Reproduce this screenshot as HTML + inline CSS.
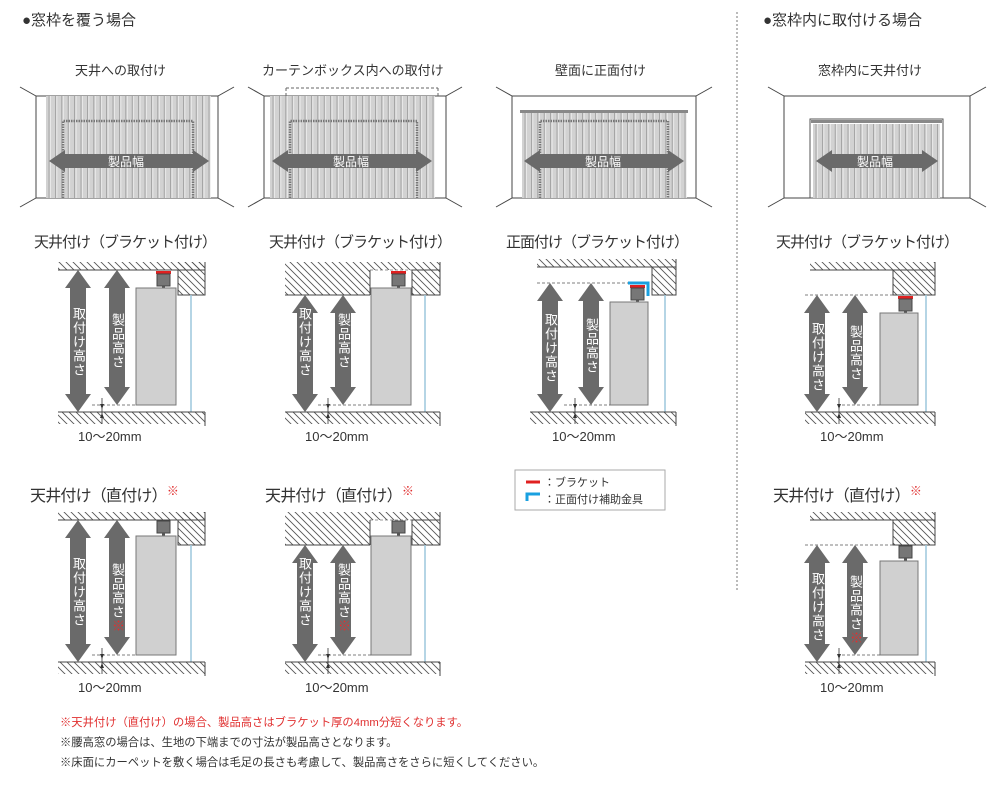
<!DOCTYPE html>
<html><head><meta charset="utf-8"><style>
body{margin:0;background:#fff;width:1000px;height:790px;position:relative;overflow:hidden;font-family:"Liberation Sans","Noto Sans CJK JP",sans-serif;color:#333}
.t{position:absolute;white-space:nowrap}
.st{font-size:15px;letter-spacing:-1px}
.v{position:absolute;writing-mode:vertical-rl;color:#fff;font-size:13px;line-height:14px;letter-spacing:1px}
</style></head><body>
<svg id="s" width="1000" height="790" style="position:absolute;left:0;top:0">
<defs>
<pattern id="h" width="7" height="7" patternUnits="userSpaceOnUse"><path d="M-1,-1 L8,8 M-1,6 L1,8 M6,-1 L8,1" stroke="#555" stroke-width="0.9"/></pattern>
</defs>
<g id="g"></g>
<line x1="737" y1="12" x2="737" y2="592" stroke="#777" stroke-dasharray="2,2"/>
<rect x="515" y="470" width="150" height="40" fill="#fff" stroke="#aaa"/>
<line x1="526" y1="482" x2="540" y2="482" stroke="#e02020" stroke-width="3"/>
<path d="M527,501 V494 H540" fill="none" stroke="#1aa0e0" stroke-width="3"/>
<text x="544" y="486" font-size="11" fill="#333">：ブラケット</text>
<text x="544" y="503" font-size="11" fill="#333">：正面付け補助金具</text>
</svg>
<div class="t" style="left:22px;top:9px;font-size:15px">●窓枠を覆う場合</div>
<div class="t" style="left:763px;top:9px;font-size:15px">●窓枠内に取付ける場合</div>
<div class="t" style="left:75px;top:60px;font-size:13px">天井への取付け</div>
<div class="t" style="left:262px;top:60px;font-size:13px">カーテンボックス内への取付け</div>
<div class="t" style="left:555px;top:60px;font-size:13px">壁面に正面付け</div>
<div class="t" style="left:818px;top:60px;font-size:13px">窓枠内に天井付け</div>
<div class="t st" style="left:34px;top:231px">天井付け（ブラケット付け）</div>
<div class="t st" style="left:269px;top:231px">天井付け（ブラケット付け）</div>
<div class="t st" style="left:506px;top:231px">正面付け（ブラケット付け）</div>
<div class="t st" style="left:776px;top:231px">天井付け（ブラケット付け）</div>
<div class="t" style="left:30px;top:482px;font-size:16px;letter-spacing:-0.8px">天井付け（直付け）<span style="color:#e03030;font-size:12px;vertical-align:top">※</span></div>
<div class="t" style="left:265px;top:482px;font-size:16px;letter-spacing:-0.8px">天井付け（直付け）<span style="color:#e03030;font-size:12px;vertical-align:top">※</span></div>
<div class="t" style="left:773px;top:482px;font-size:16px;letter-spacing:-0.8px">天井付け（直付け）<span style="color:#e03030;font-size:12px;vertical-align:top">※</span></div>
<div class="t" style="left:78px;top:426px;font-size:13px">10〜20mm</div>
<div class="t" style="left:305px;top:426px;font-size:13px">10〜20mm</div>
<div class="t" style="left:552px;top:426px;font-size:13px">10〜20mm</div>
<div class="t" style="left:820px;top:426px;font-size:13px">10〜20mm</div>
<div class="t" style="left:78px;top:677px;font-size:13px">10〜20mm</div>
<div class="t" style="left:305px;top:677px;font-size:13px">10〜20mm</div>
<div class="t" style="left:820px;top:677px;font-size:13px">10〜20mm</div>
<div class="t" style="left:108px;top:153px;font-size:12px;color:#fff">製品幅</div>
<div class="t" style="left:333px;top:153px;font-size:12px;color:#fff">製品幅</div>
<div class="t" style="left:585px;top:153px;font-size:12px;color:#fff">製品幅</div>
<div class="t" style="left:857px;top:153px;font-size:12px;color:#fff">製品幅</div>
<div class="v" style="left:71px;top:307px">取付け高さ</div>
<div class="v" style="left:110px;top:313px">製品高さ</div>
<div class="v" style="left:297px;top:307px">取付け高さ</div>
<div class="v" style="left:336px;top:313px">製品高さ</div>
<div class="v" style="left:543px;top:313px">取付け高さ</div>
<div class="v" style="left:584px;top:318px">製品高さ</div>
<div class="v" style="left:810px;top:322px">取付け高さ</div>
<div class="v" style="left:848px;top:325px">製品高さ</div>
<div class="v" style="left:71px;top:557px">取付け高さ</div>
<div class="v" style="left:110px;top:563px">製品高さ<span style="color:#e03030">※</span></div>
<div class="v" style="left:297px;top:557px">取付け高さ</div>
<div class="v" style="left:336px;top:563px">製品高さ<span style="color:#e03030">※</span></div>
<div class="v" style="left:810px;top:572px">取付け高さ</div>
<div class="v" style="left:848px;top:575px">製品高さ<span style="color:#e03030">※</span></div>
<div class="t" style="left:60px;top:714px;font-size:11.3px;color:#e03030">※天井付け（直付け）の場合、製品高さはブラケット厚の4mm分短くなります。</div>
<div class="t" style="left:60px;top:734px;font-size:11.3px">※腰高窓の場合は、生地の下端までの寸法が製品高さとなります。</div>
<div class="t" style="left:60px;top:754px;font-size:11.3px">※床面にカーペットを敷く場合は毛足の長さも考慮して、製品高さをさらに短くしてください。</div>
<script>
var g=document.getElementById('g'),NS='http://www.w3.org/2000/svg';
function E(t,a){var e=document.createElementNS(NS,t);for(var k in a)e.setAttribute(k,a[k]);g.appendChild(e);return e}
function L(x1,y1,x2,y2,c,w,d){var a={x1:x1,y1:y1,x2:x2,y2:y2,stroke:c||'#555','stroke-width':w||1};if(d)a['stroke-dasharray']=d;E('line',a)}
function R(x,y,w,h,f,s){E('rect',{x:x,y:y,width:w,height:h,fill:f||'none',stroke:s||'none'})}
function H(x,y,w,h){R(x,y,w,h,'url(#h)')}
function room(x0,x1,y0,y1){R(x0,y0,x1-x0,y1-y0,'#fff','#444');L(x0,y0,x0-16,y0-9,'#444');L(x1,y0,x1+16,y0-9,'#444');L(x0,y1,x0-16,y1+9,'#444');L(x1,y1,x1+16,y1+9,'#444')}
function cur(x0,x1,y0,y1){R(x0,y0,x1-x0,y1-y0,'#d2d2d2');for(var x=x0+3;x<x1;x+=6.4){L(x,y0,x,y1,'#9a9a9a',0.8);L(x+1.5,y0,x+1.5,y1,'#eee',0.8)}}
function harrow(x0,x1,cy){E('polygon',{points:[x0,cy,x0+16,cy-11,x0+16,cy-7,x1-16,cy-7,x1-16,cy-11,x1,cy,x1-16,cy+11,x1-16,cy+7,x0+16,cy+7,x0+16,cy+11].join(' '),fill:'#6a6a6a'})}
function frame(x0,x1,y0,y1){E('path',{d:'M'+x0+','+y1+' V'+y0+' H'+x1+' V'+y1,fill:'none',stroke:'#777','stroke-width':2.5,'stroke-dasharray':'1.5,1'})}
room(36,218,96,198);cur(46,210,96,198);frame(63,193,121,198);harrow(49,209,161);
room(264,446,96,198);L(286,88,438,88,'#666',1,'3,2');L(286,88,286,97,'#666',1,'3,2');L(438,88,438,97,'#666',1,'3,2');cur(270,434,96,198);frame(290,417,121,198);harrow(272,432,161);
room(512,696,96,198);cur(522,686,112,198);R(520,110,168,3,'#888');frame(540,668,121,198);harrow(524,684,161);
room(784,970,96,198);R(810,119,133,79,'#fff','#555');cur(813,940,124,198);R(811,120,131,3,'#888');harrow(816,938,161);
function varrow(cx,y1,y2){E('polygon',{points:[cx,y1,cx+13,y1+18,cx+8,y1+18,cx+8,y2-18,cx+13,y2-18,cx,y2,cx-13,y2-18,cx-8,y2-18,cx-8,y1+18,cx-13,y1+18].join(' '),fill:'#6a6a6a'})}
function floor(x0,x1,y){H(x0,y,x1-x0,12);L(x0,y,x1,y,'#444');L(x1,y,x1,y+14,'#444')}
function small(x,y){L(x,y-14,x,y+12,'#333',0.8);E('polygon',{points:[x-2,y-8,x+2,y-8,x,y-3].join(' '),fill:'#333'});E('polygon',{points:[x-2,y+6,x+2,y+6,x,y+1].join(' '),fill:'#333'})}
function brk(x,y,red){if(red)R(x-1,y,15,3,'#e02020');R(x,y+(red?3:0),13,12,'#777','#444');R(x+5,y+(red?15:12),3,3,'#555')}
function blind(x,y,w,h){R(x,y,w,h,'#d0d0d0','#777')}
function D1(dy,red){var c=270+dy,f=412+dy;H(58,c-8,147,8);L(58,c,178,c,'#444');H(178,c-8,27,33);R(178,c,27,25,'none','#444');L(205,c-8,205,c+25,'#444');
 brk(157,c+1,red);var bt=c+(red?18:16);blind(136,bt,40,f-7-bt);L(191,c+25,191,f,'#9cc7dc',1.5);floor(58,205,f);
 varrow(78,c,f);varrow(117,c,f-7);L(92,f-7,136,f-7,'#555',0.8,'3,2');small(102,f)}
function D2(dy,red){var c=270+dy,f=412+dy;H(285,c-8,85,33);L(285,c+25,370,c+25,'#444');L(370,c,370,c+25,'#444');L(370,c,412,c,'#777',0.8,'3,2');H(370,c-8,42,8);H(412,c-8,28,33);R(412,c,28,25,'none','#444');L(440,c-8,440,c+25,'#444');
 brk(392,c+1,red);var bt=c+(red?18:16);blind(371,bt,40,f-7-bt);L(425,c+25,425,f,'#9cc7dc',1.5);floor(285,440,f);
 varrow(305,c+25,f);varrow(343,c+25,f-7);L(318,f-7,371,f-7,'#555',0.8,'3,2');small(328,f)}
D1(0,true);D1(250,false);D2(0,true);D2(250,false);
H(537,259,115,8);L(537,267,652,267,'#444');H(652,259,24,36);R(652,267,24,28,'none','#444');L(676,259,676,295,'#444');
L(537,283,630,283,'#555',0.8,'3,2');E('path',{d:'M628,283 H648 V296',fill:'none',stroke:'#1aa0e0','stroke-width':3});
R(630,285,15,3,'#e02020');R(631,288,13,12,'#777','#444');R(636,300,3,3,'#555');blind(610,302,38,103);L(665,295,665,412,'#9cc7dc',1.5);floor(530,676,412);
varrow(550,283,412);varrow(591,283,405);L(564,405,610,405,'#555',0.8,'3,2');small(575,412);
function D4(dy,red){var c=270+dy,f=412+dy;H(810,c-8,83,8);L(810,c,893,c,'#444');H(893,c-8,42,33);R(893,c,42,25,'none','#444');L(935,c-8,935,c+25,'#444');
 L(805,c+25,893,c+25,'#555',0.8,'3,2');brk(899,c+26,red);var bt=c+(red?43:41);blind(880,bt,38,f-7-bt);L(926,c+25,926,f,'#9cc7dc',1.5);floor(805,935,f);
 varrow(817,c+25,f);varrow(855,c+25,f-7);L(842,f-7,880,f-7,'#555',0.8,'3,2');small(839,f)}
D4(0,true);D4(250,false);
</script>
</body></html>
